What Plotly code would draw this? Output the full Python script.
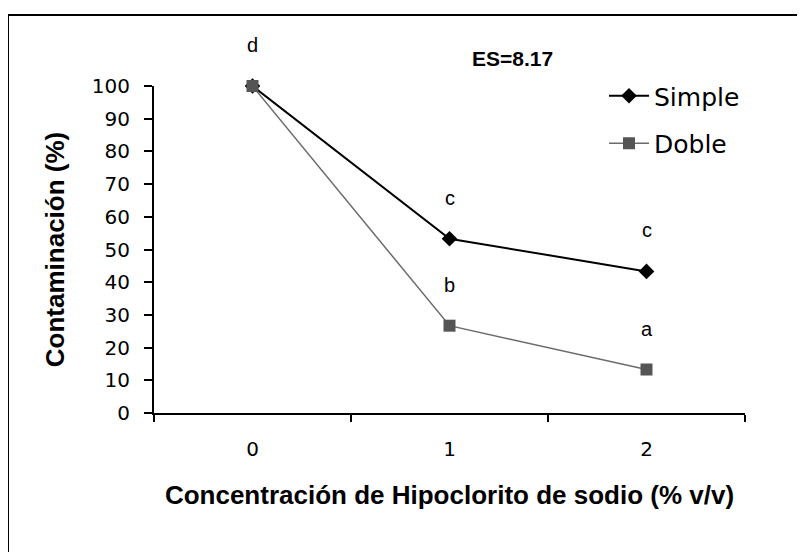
"""Contaminación vs concentración de hipoclorito — desinfección simple y doble."""

import plotly.graph_objects as go

concentracion = ["0", "1", "2"]
simple = [100, 53.3, 43.3]
doble = [100, 26.7, 13.3]
letras_simple = ["d", "c", "c"]
letras_doble = ["", "b", "a"]
yticks = list(range(0, 101, 10))

FONT = "Liberation Sans, Arial, sans-serif"
WIDE = "DejaVu Sans, Verdana, sans-serif"

# reference pixel positions; the page body adds an 8px margin
OFF = 8
W, H = 805, 552
L, R, T, B = 154 - OFF, W - (745 - OFF), 86 - OFF, H - (413 - OFF)
pw, ph = W - L - R, H - T - B


def px_x(p):
    return (p - OFF - L) / pw


def px_y(p):
    return (H - B - (p - OFF)) / ph


fig = go.Figure()
fig.add_trace(
    go.Scatter(
        x=concentracion,
        y=simple,
        mode="lines+markers",
        name="Simple",
        legendgroup="s",
        line=dict(color="#000000", width=2),
        marker=dict(symbol="diamond", size=12, color="#000000"),
        cliponaxis=False,
    )
)
fig.add_trace(
    go.Scatter(
        x=concentracion,
        y=doble,
        mode="lines+markers",
        name="Doble",
        legendgroup="d",
        line=dict(color="#6b6b6b", width=1.5),
        marker=dict(symbol="square", size=12, color="#555555"),
        cliponaxis=False,
    )
)

# letras de significancia sobre cada punto
for xs, ys, ls in ((concentracion, simple, letras_simple), (concentracion, doble, letras_doble)):
    for x, y, t in zip(xs, ys, ls):
        if not t:
            continue
        fig.add_annotation(
            x=x, y=y, text=t, showarrow=False, yshift=41,
            font=dict(family=FONT, size=20, color="#000000"),
        )

fig.add_annotation(
    x=px_x(512), y=px_y(45), xref="paper", yref="paper", text="<b>ES=8.17</b>",
    showarrow=False, font=dict(family=FONT, size=21, color="#000000"),
)

# marco exterior
fig.add_shape(
    type="rect", xref="paper", yref="paper",
    x0=px_x(8), x1=px_x(812), y0=px_y(570), y1=px_y(15),
    line=dict(color="#000000", width=2), fillcolor="rgba(0,0,0,0)",
)

fig.update_layout(
    width=W,
    height=H,
    margin=dict(l=L, r=R, t=T, b=B),
    plot_bgcolor="white",
    paper_bgcolor="white",
    font=dict(family=WIDE, size=20, color="#000000"),
    legend=dict(
        x=px_x(604), y=px_y(73), xanchor="left", yanchor="top",
        font=dict(family=WIDE, size=25, color="#000000"),
        bgcolor="rgba(0,0,0,0)", itemwidth=40, tracegroupgap=12,
    ),
    xaxis=dict(
        type="category",
        range=[-0.5, 2.5],
        showline=True, linecolor="#000000", linewidth=2,
        ticks="outside", tickson="boundaries", ticklen=7, tickwidth=2, tickcolor="#000000",
        ticklabelstandoff=17,
        showgrid=False, zeroline=False,
        title=dict(
            text="<b>Concentración de Hipoclorito de sodio (% v/v)</b>",
            font=dict(family=FONT, size=26), standoff=26,
        ),
    ),
    yaxis=dict(
        range=[0, 100],
        tickvals=yticks,
        showline=True, linecolor="#000000", linewidth=2,
        ticks="outside", ticklen=8, tickwidth=2, tickcolor="#000000",
        ticklabelstandoff=10,
        showgrid=False, zeroline=False,
        title=dict(text="<b>Contaminación (%)</b>", font=dict(family=FONT, size=26), standoff=20),
    ),
)

fig.write_html("out.html")
